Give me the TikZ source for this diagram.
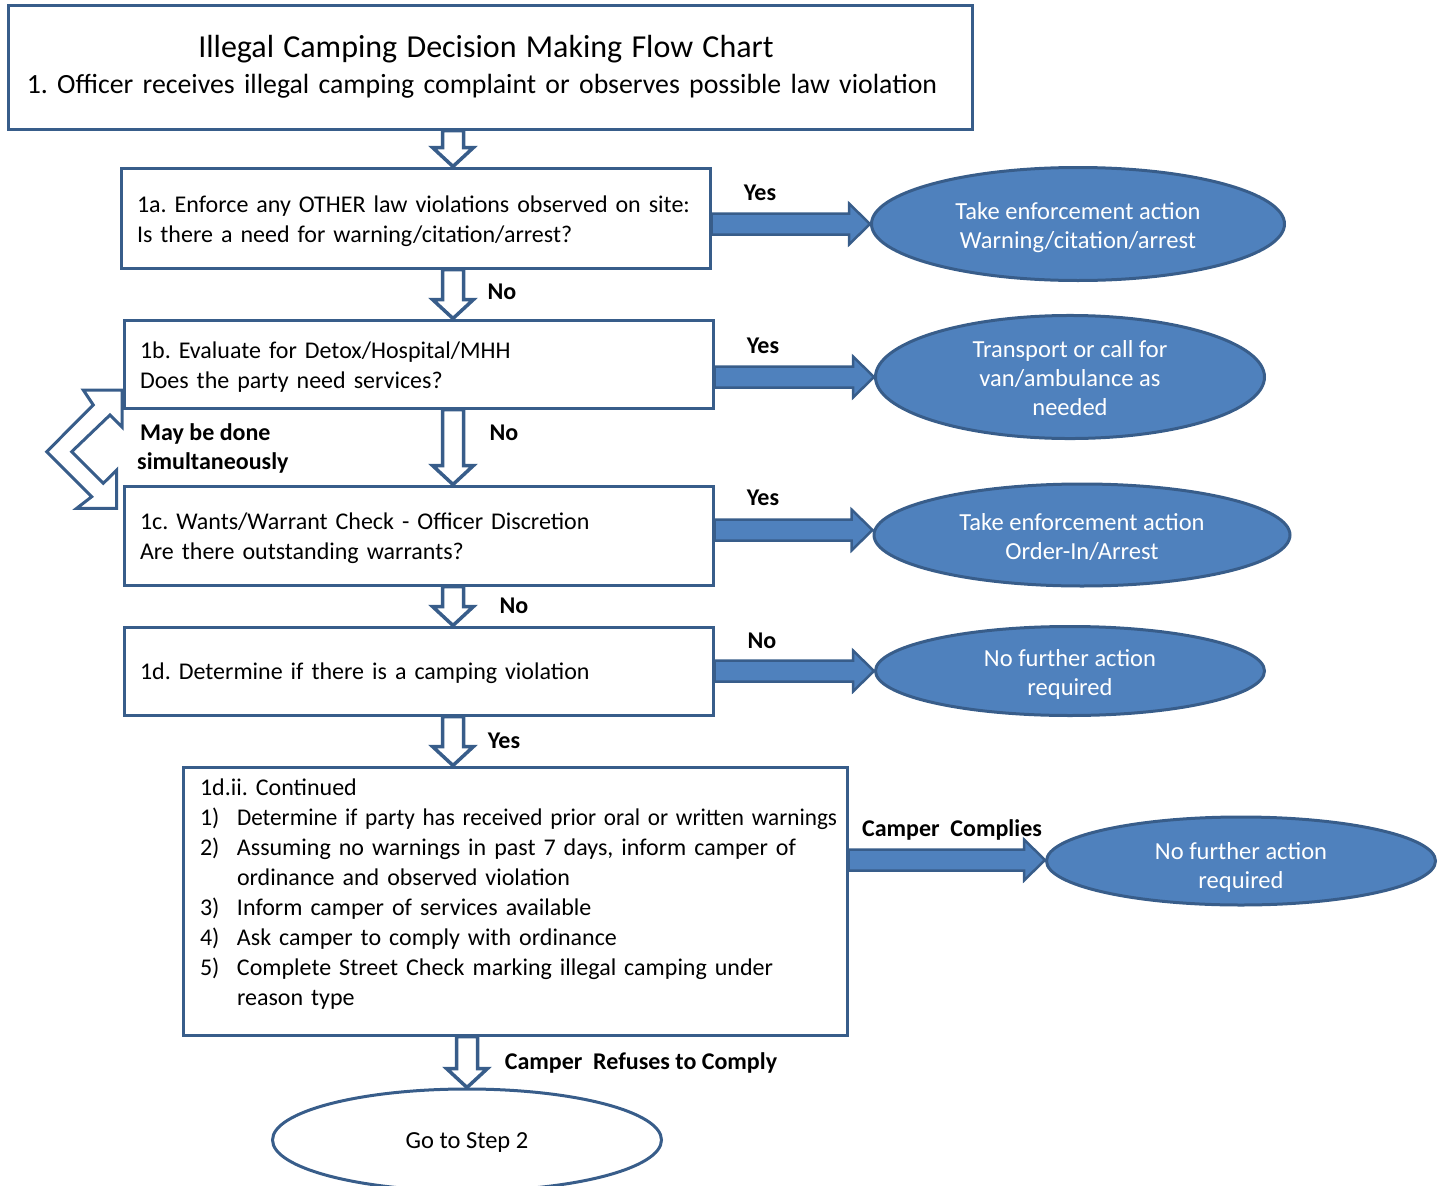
\documentclass[tikz,border=0pt]{standalone}
\usepackage{fontspec}
\setmainfont{Carlito}
\usetikzlibrary{shapes.geometric,calc,backgrounds}
\definecolor{edge}{HTML}{385D8A}
\definecolor{fillb}{HTML}{4F81BD}
\frenchspacing
\tikzset{
 box/.style={draw=edge,line width=3pt,fill=white,rectangle,inner xsep=16pt,inner ysep=0pt,align=left,font=\fontsize{24}{30}\selectfont\frenchspacing},
 oval/.style={ellipse,draw=edge,line width=3pt,fill=fillb,text=white,inner sep=0pt,font=\fontsize{24.5}{29}\selectfont\frenchspacing},
 lbl/.style={font=\bfseries\fontsize{24}{29}\selectfont,inner sep=0pt},
 downblk/.style={draw=edge,line width=3.5pt,fill=white,line join=miter},
 rightblk/.style={draw=edge,line width=2.5pt,fill=fillb,line join=miter},
}
\newcommand\otext[2]{\raisebox{-#1pt}[\height][\depth]{\begin{tabular}{@{}c@{}}#2\end{tabular}}}
\newcommand\downblock[3]{\draw[downblk] let \p1=(#2.south), \p2=(#3.north) in
  (#1pt-10.5pt,\y1) -- (#1pt-10.5pt,\y2+19pt) -- (#1pt-20.5pt,\y2+19pt) -- (#1pt,\y2)
  -- (#1pt+20.5pt,\y2+19pt) -- (#1pt+10.5pt,\y2+19pt) -- (#1pt+10.5pt,\y1) -- cycle;}
\newcommand\rightblock[3]{\draw[rightblk] let \p1=(#2.east), \p2=(#3.west) in
  (\x1,{-#1pt+10.5pt}) -- (\x2-21pt,{-#1pt+10.5pt}) -- (\x2-21pt,{-#1pt+20.5pt}) -- (\x2,{-#1pt})
  -- (\x2-21pt,{-#1pt-20.5pt}) -- (\x2-21pt,{-#1pt-10.5pt}) -- (\x1,{-#1pt-10.5pt}) -- cycle;}
\begin{document}
\begin{tikzpicture}[x=1pt,y=-1pt]
\useasboundingbox (0,0) rectangle (1444,1186);
\clip (0,0) rectangle (1444,1186);
% boxes
\node[box,align=center,text width=940pt,inner xsep=12pt,minimum height=124pt,font=\fontsize{27.8}{30}\selectfont\frenchspacing] (title) at (490,67)
 {\hspace*{-8pt}{\fontsize{32}{34}\selectfont Illegal Camping Decision Making Flow Chart}\\[6pt]
  \hspace*{-16pt}1. Officer receives illegal camping complaint or observes possible law violation};
\node[box,text width=557pt,minimum height=100pt] (b1a) at (415.5,218)
 {\rule{0pt}{28pt}1a. Enforce any OTHER law violations observed on site:\\Is there a need for warning/citation/arrest?\strut};
\node[box,text width=557pt,minimum height=88pt] (b1b) at (418.5,364)
 {\rule{0pt}{28pt}1b. Evaluate for Detox/Hospital/MHH\\Does the party need services?\strut};
\node[box,text width=557pt,minimum height=99pt] (b1c) at (418.5,535.5)
 {\rule{0pt}{26pt}1c. Wants/Warrant Check - Officer Discretion\\Are there outstanding warrants?\strut};
\node[box,text width=557pt,minimum height=88pt] (b1d) at (418.5,671)
 {\rule[-9pt]{0pt}{34pt}1d. Determine if there is a camping violation};
\node[box,text width=630pt,inner xsep=17pt,minimum height=268pt] (b1dii) at (515,901)
 {\raisebox{6.5pt}[\height][\depth]{\begin{tabular}{@{}l@{}}
  1d.ii. Continued\\
  \makebox[37pt][l]{1)}\scalebox{0.966}[1]{Determine if party has received prior oral or written warnings}\\
  \makebox[37pt][l]{2)}Assuming no warnings in past 7 days, inform camper of\\
  \hspace*{37pt}ordinance and observed violation\\
  \makebox[37pt][l]{3)}Inform camper of services available\\
  \makebox[37pt][l]{4)}Ask camper to comply with ordinance\\
  \makebox[37pt][l]{5)}Complete Street Check marking illegal camping under\\
  \hspace*{37pt}reason type
 \end{tabular}}};
% ellipses
\node[oval,minimum width=413pt,minimum height=113pt] (e1) at (1078,224) {\otext{4.5}{Take enforcement action\\Warning/citation/arrest}};
\node[oval,minimum width=389pt,minimum height=111pt] (e2) at (1070,377) {\otext{4}{Transport or call for\\van/ambulance as\\needed}};
\node[oval,minimum width=416pt,minimum height=102pt] (e3) at (1082,535) {\otext{4.5}{Take enforcement action\\Order-In/Arrest}};
\node[oval,minimum width=389pt,minimum height=89pt] (e4) at (1070,671) {\otext{4.5}{No further action\\required}};
\node[oval,minimum width=389pt,minimum height=88pt] (e5) at (1241,861) {\otext{7.5}{No further action\\required}};
\node[oval,fill=white,text=black,minimum width=389pt,minimum height=102pt] (e6) at (467,1140) {\otext{2.5}{Go to Step 2}};
% labels
\node[lbl] (l1) at (760,193) {Yes};
\node[lbl] (l2) at (502,292) {No};
\node[lbl] (l3) at (763,346) {Yes};
\node[lbl] (l4) at (504,433) {No};
\node[lbl,anchor=west,align=left] (l5) at (137,448) {\hspace*{3pt}May be done\\simultaneously};
\node[lbl] (l6) at (763,498) {Yes};
\node[lbl] (l7) at (514,606) {No};
\node[lbl] (l8) at (762,641) {No};
\node[lbl] (l9) at (504,741) {Yes};
\node[lbl] (l10) at (952,830) {Camper\ \ Complies};
\node[lbl] (l11) at (641,1063) {Camper\ \ Refuses to Comply};
% connectors
\begin{pgfonlayer}{background}
\downblock{453}{title}{b1a}
\downblock{453}{b1a}{b1b}
\downblock{453}{b1b}{b1c}
\downblock{453}{b1c}{b1d}
\downblock{453}{b1d}{b1dii}
\downblock{467}{b1dii}{e6}
\rightblock{224}{b1a}{e1}
\rightblock{377}{b1b}{e2}
\rightblock{530}{b1c}{e3}
\rightblock{671}{b1d}{e4}
\rightblock{860}{b1dii}{e5}
\end{pgfonlayer}
% bent double arrow
\draw[downblk,line width=3pt] (46.7,451.7) -- (93.3,405) -- (83.3,390) -- (122,390) -- (122,427)
  -- (110,415) -- (71.7,451.7) -- (103.3,483.3) -- (116.7,470) -- (116.7,508.3)
  -- (76.7,508.3) -- (91.7,496.7) -- cycle;
\end{tikzpicture}
\end{document}
